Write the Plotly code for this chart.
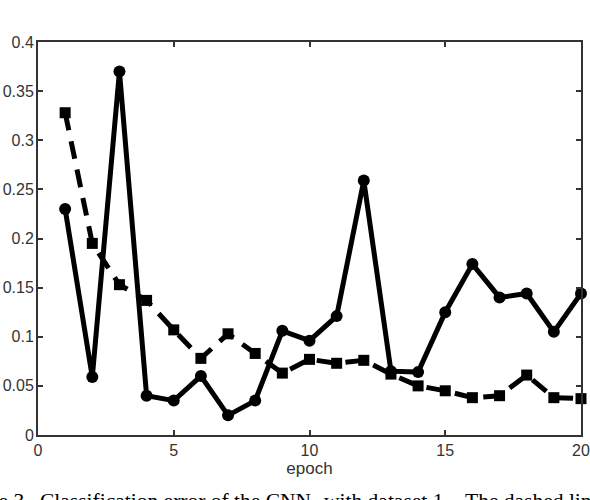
import plotly.graph_objects as go

epochs = list(range(1, 21))
solid_err = [0.230, 0.059, 0.370, 0.040, 0.035, 0.060, 0.020, 0.035, 0.106, 0.096,
             0.121, 0.259, 0.065, 0.064, 0.125, 0.174, 0.140, 0.144, 0.105, 0.144]
dashed_err = [0.328, 0.195, 0.153, 0.137, 0.107, 0.078, 0.103, 0.083, 0.063, 0.077,
              0.073, 0.076, 0.062, 0.050, 0.045, 0.038, 0.040, 0.061, 0.038, 0.037]
x_ticks = [0, 5, 10, 15, 20]
y_ticks = [0, 0.05, 0.1, 0.15, 0.2, 0.25, 0.3, 0.35, 0.4]
y_tick_labels = ["0", "0.05", "0.1", "0.15", "0.2", "0.25", "0.3", "0.35", "0.4"]
caption_parts = ["Figure 3.", "Classification error of the CNN", "with dataset 1.", "The dashed line"]

W, H = 590, 500
L, R, T, B = 38, 9, 42, 65
pw = W - L - R
ph = H - T - B

fig = go.Figure()
fig.add_trace(go.Scatter(x=epochs, y=dashed_err, mode="lines+markers",
                         line=dict(color="black", width=5, dash="18px,11px"),
                         marker=dict(symbol="square", size=11, color="black"),
                         cliponaxis=False, showlegend=False))
fig.add_trace(go.Scatter(x=epochs, y=solid_err, mode="lines+markers",
                         line=dict(color="black", width=5),
                         marker=dict(symbol="circle", size=12, color="black"),
                         cliponaxis=False, showlegend=False))

axis_common = dict(showline=True, linecolor="#333333", linewidth=2, mirror="ticks",
                   ticks="inside", ticklen=5, tickwidth=2, tickcolor="#333333",
                   showgrid=False, zeroline=False, automargin=False,
                   ticklabeloverflow="allow",
                   tickfont=dict(family="Liberation Sans, Arial", size=16, color="#333333"))

fig.update_xaxes(range=[0, 20], tickvals=x_ticks,
                 title=dict(text="epoch", font=dict(family="Liberation Sans, Arial", size=17, color="#333333"),
                            standoff=2),
                 **axis_common)
fig.update_yaxes(range=[0, 0.4], tickvals=y_ticks, ticktext=y_tick_labels,
                 ticklabelstandoff=-1, **axis_common)

# caption words positioned like the justified caption line (page px)
cap_pos = [(32, "right"), (38, "left"), (322, "left"), (463, "left")]
for txt, (xw, anc) in zip(caption_parts, cap_pos):
    fig.add_annotation(text=txt, xref="paper", yref="paper",
                       x=(xw - L) / pw, y=-(487 - (H - B)) / ph,
                       xanchor=anc, yanchor="top", showarrow=False,
                       font=dict(family="Liberation Serif, Times New Roman", size=21.5, color="black"))

fig.update_layout(width=W, height=H, plot_bgcolor="white", paper_bgcolor="white",
                  margin=dict(l=L, r=R, t=T, b=B))

fig.write_html("out.html", config={"displayModeBar": False},
               post_script="document.body.style.margin='0';")
